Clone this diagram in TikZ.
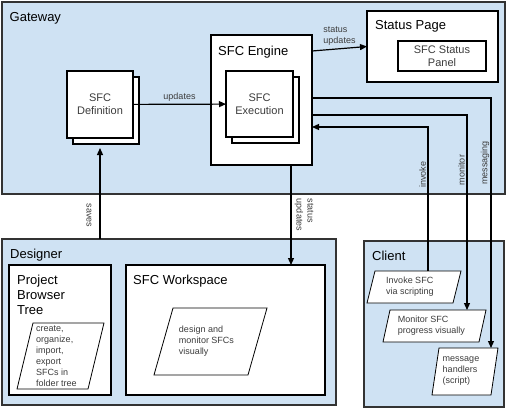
\documentclass[tikz,border=0pt]{standalone}
\usepackage{fontspec}
\setmainfont{Liberation Sans}
\usetikzlibrary{shadows,arrows.meta}
\definecolor{paneblue}{RGB}{207,226,243}
\definecolor{framegray}{RGB}{51,51,51}
\definecolor{textgray}{RGB}{60,60,60}

\begin{document}
\begin{tikzpicture}[x=1pt, y=-1pt, >={Triangle[length=7pt,width=6pt]},
	area/.style={draw=framegray, line width=2pt, fill=paneblue, anchor=north west, inner sep=0pt, outer sep=0pt},
	box/.style={draw=black, line width=1.2pt, fill=white, anchor=north west, inner sep=0pt, outer sep=0pt},
	stack/.style={box, anchor=center, copy shadow={shadow xshift=6pt, shadow yshift=-6pt, draw=black, fill=white, line width=1.2pt}, align=center, text=textgray, font=\fontsize{11}{12.7}\selectfont},
	parabox/.style={draw=black, line width=0.8pt, fill=white, inner sep=0pt, outer sep=0pt, xslant=#1, transform shape},
	paratext/.style={inner sep=0pt, align=left, text=textgray, font=\fontsize{9}{11}\selectfont},
	title/.style={anchor=base west, inner sep=0pt, font=\fontsize{13}{15}\selectfont},
	lbl/.style={inner sep=0pt, align=left, text=textgray, font=\fontsize{9}{11}\selectfont},
	flow/.style={->, line width=1.2pt}]
	\useasboundingbox (0,0) rectangle (507,410);

	%Bereiche
	\node[area, minimum width=503.5, minimum height=192] (gateway) at (1.5,1.5) {};
	\node[area, minimum width=334, minimum height=166] (designer) at (2,239) {};
	\node[area, minimum width=140, minimum height=166] (client) at (364,241) {};
	\node[title] (gwtitle) at (9.5,21.5) {Gateway};
	\node[title] (dstitle) at (10,258) {Designer};
	\node[title] (cltitle) at (372,260) {Client};

	%Gateway
	\node[box, minimum width=101, minimum height=130] (engine) at (211,35) {};
	\node[title] (engtitle) at (218,55) {SFC Engine};
	\node[box, minimum width=131, minimum height=71] (status) at (367,11) {};
	\node[title] (sttitle) at (375,29.5) {Status Page};
	\node[box, anchor=center, minimum width=88, minimum height=30, align=center, text=textgray, font=\fontsize{11}{12.7}\selectfont] (panel) at (442,56) {SFC Status\\Panel};
	\node[stack, minimum width=66, minimum height=67] (def) at (100,104.5) {SFC\\Definition};
	\node[stack, minimum width=67, minimum height=66] (exec) at (259.5,104) {SFC\\Execution};

	%Designer
	\node[box, minimum width=102, minimum height=130] (tree) at (9,265) {};
	\node[title, align=left] (trtitle) at (17,314) {Project\\Browser\\Tree};
	\node[parabox=0.242, minimum width=71, minimum height=66] (pbtbox) at (60.5,356) {};
	\node[paratext] (pbt) at ([xshift=-4pt]pbtbox.center) {create,\\organize,\\import,\\export\\SFCs in\\folder tree};
	\node[box, minimum width=199, minimum height=130] (workspace) at (126,265) {};
	\node[title] (wstitle) at (133,284) {SFC Workspace};
	\node[parabox=0.284, minimum width=94, minimum height=67] (wsbox) at (210.5,341.5) {};
	\node[paratext] (ws) at ([xshift=-4pt]wsbox.center) {design and\\monitor SFCs\\visually};

	%Client
	\node[parabox=0.25, minimum width=86, minimum height=32] (invbox) at (414,287) {};
	\node[paratext] (inv) at ([xshift=-4pt]invbox.center) {Invoke SFC\\via scripting};
	\node[parabox=0.219, minimum width=96, minimum height=32] (monbox) at (434.5,326) {};
	\node[paratext] (mon) at ([xshift=-3pt]monbox.center) {Monitor SFC\\progress visually};
	\node[parabox=0.149, minimum width=59, minimum height=47] (msgbox) at (465,371.5) {};
	\node[paratext] (msg) at ([xshift=-4pt]msgbox.center) {message\\handlers\\(script)};

	%Verbindungen
	\draw[flow] (def) -- node[lbl, above=2pt] (updlbl) {updates} (exec);
	\draw[flow] ([yshift=-16pt]engine.north east) -- node[lbl, above=3pt] (sulbl) {status\\updates} (status.west);
	\draw[flow] ([yshift=-63pt]engine.north east) -| ([xshift=-7pt]msgbox.north east);
	\draw[flow] ([yshift=-80pt]engine.north east) -| ([xshift=-19pt]monbox.north east);
	\draw[flow] ([xshift=-33pt]invbox.north east) |- ([yshift=-92pt]engine.north east);
	\coordinate (sudown) at ([xshift=-21pt]engine.south east);
	\draw[flow] (sudown) -- (sudown |- workspace.north);
	\draw[flow] (def.south |- designer.north) -- ([yshift=-10pt]def.south);

	%Beschriftungen
	\node[lbl, rotate=90] (invlbl) at (422.7,174.5) {invoke};
	\node[lbl, rotate=90] (monlbl) at (461.5,170) {monitor};
	\node[lbl, rotate=90] (msglbl) at (485,163) {messaging};
	\node[lbl, rotate=-90] (saveslbl) at (89,215.5) {saves};
	\node[lbl, rotate=-90] (sudlbl) at (304,215) {status\\updates};
\end{tikzpicture}
\end{document}
